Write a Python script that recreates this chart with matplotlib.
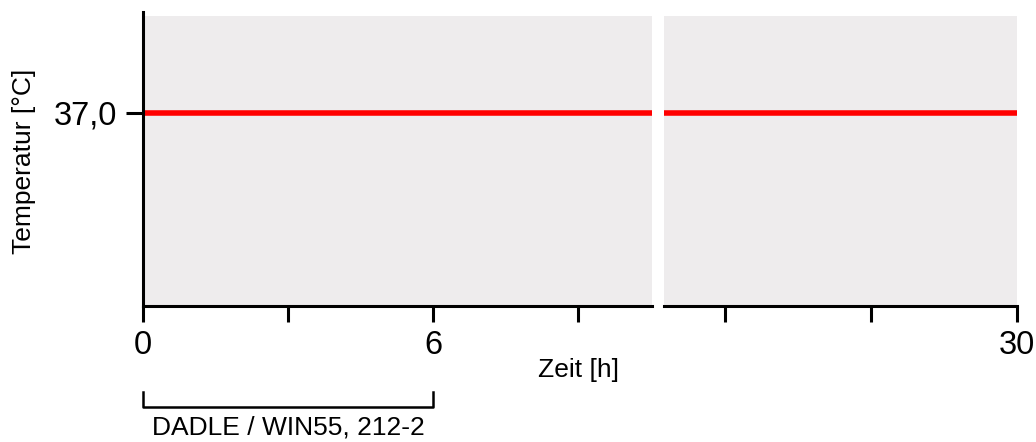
import matplotlib.pyplot as plt
import matplotlib.transforms as mtransforms

plt.rcParams['font.family'] = ['Liberation Sans', 'DejaVu Sans']

# --- data ---
zeit = [0, 30]                # h
temperatur = [37.0, 37.0]     # °C
y_ticks = [37.0]
y_ticklabels = ['37,0']
left_range = (0, 10.53)
right_range = (22.74, 30)
left_ticks = [0, 3, 6, 9]
left_ticklabels = ['0', '', '6', '']
right_ticks = [24, 27, 30]
right_ticklabels = ['', '', '30']
y_range = (36.0, 37.5)
treatment = 'DADLE / WIN55, 212-2'
treatment_span = (0, 6)

BG = '#EEECED'
RED = '#FF0000'

fig = plt.figure(figsize=(10.36, 4.42), dpi=100)
ax1 = fig.add_axes([0.1380, 0.3077, 0.4913, 0.6561])
ax2 = fig.add_axes([0.6409, 0.3077, 0.3407, 0.6561])

for ax in (ax1, ax2):
    ax.set_facecolor(BG)
    ax.plot(zeit, temperatur, color=RED, linewidth=4.0, solid_capstyle='butt')
    ax.set_ylim(*y_range)
    for s in ('top', 'right'):
        ax.spines[s].set_visible(False)
    ax.spines['bottom'].set_linewidth(2.2)
    ax.spines['left'].set_linewidth(2.2)
    ax.tick_params(axis='x', direction='out', length=11.5, width=2.2,
                   labelsize=23.5, pad=6)

ax1.set_xlim(*left_range)
ax1.set_xticks(left_ticks)
ax1.set_xticklabels(left_ticklabels)
ax1.set_yticks(y_ticks)
ax1.set_yticklabels(y_ticklabels)
ax1.spines['left'].set_bounds(y_range[0], 37.52)
ax1.tick_params(axis='y', direction='out', length=12.5, width=2.2,
                labelsize=23.5, pad=6)
ax1.set_ylabel('Temperatur [°C]', fontsize=19, labelpad=13)

ax2.set_xlim(*right_range)
ax2.set_xticks(right_ticks)
ax2.set_xticklabels(right_ticklabels)
ax2.spines['left'].set_visible(False)
ax2.set_yticks([])

fig.text(578 / 1036, 1 - 370 / 442, 'Zeit [h]', fontsize=19,
         ha='center', va='center')

# treatment bracket under the left axis
trans = mtransforms.blended_transform_factory(ax1.transData, ax1.transAxes)
x0, x1 = treatment_span
ax1.plot([x0, x0, x1, x1], [-0.297, -0.348, -0.348, -0.297], color='black',
         linewidth=1.8, transform=trans, clip_on=False)
ax1.text((x0 + x1) / 2, -0.42, treatment, fontsize=19, ha='center',
         va='center', transform=trans)

fig.savefig('out.png', dpi=100)
